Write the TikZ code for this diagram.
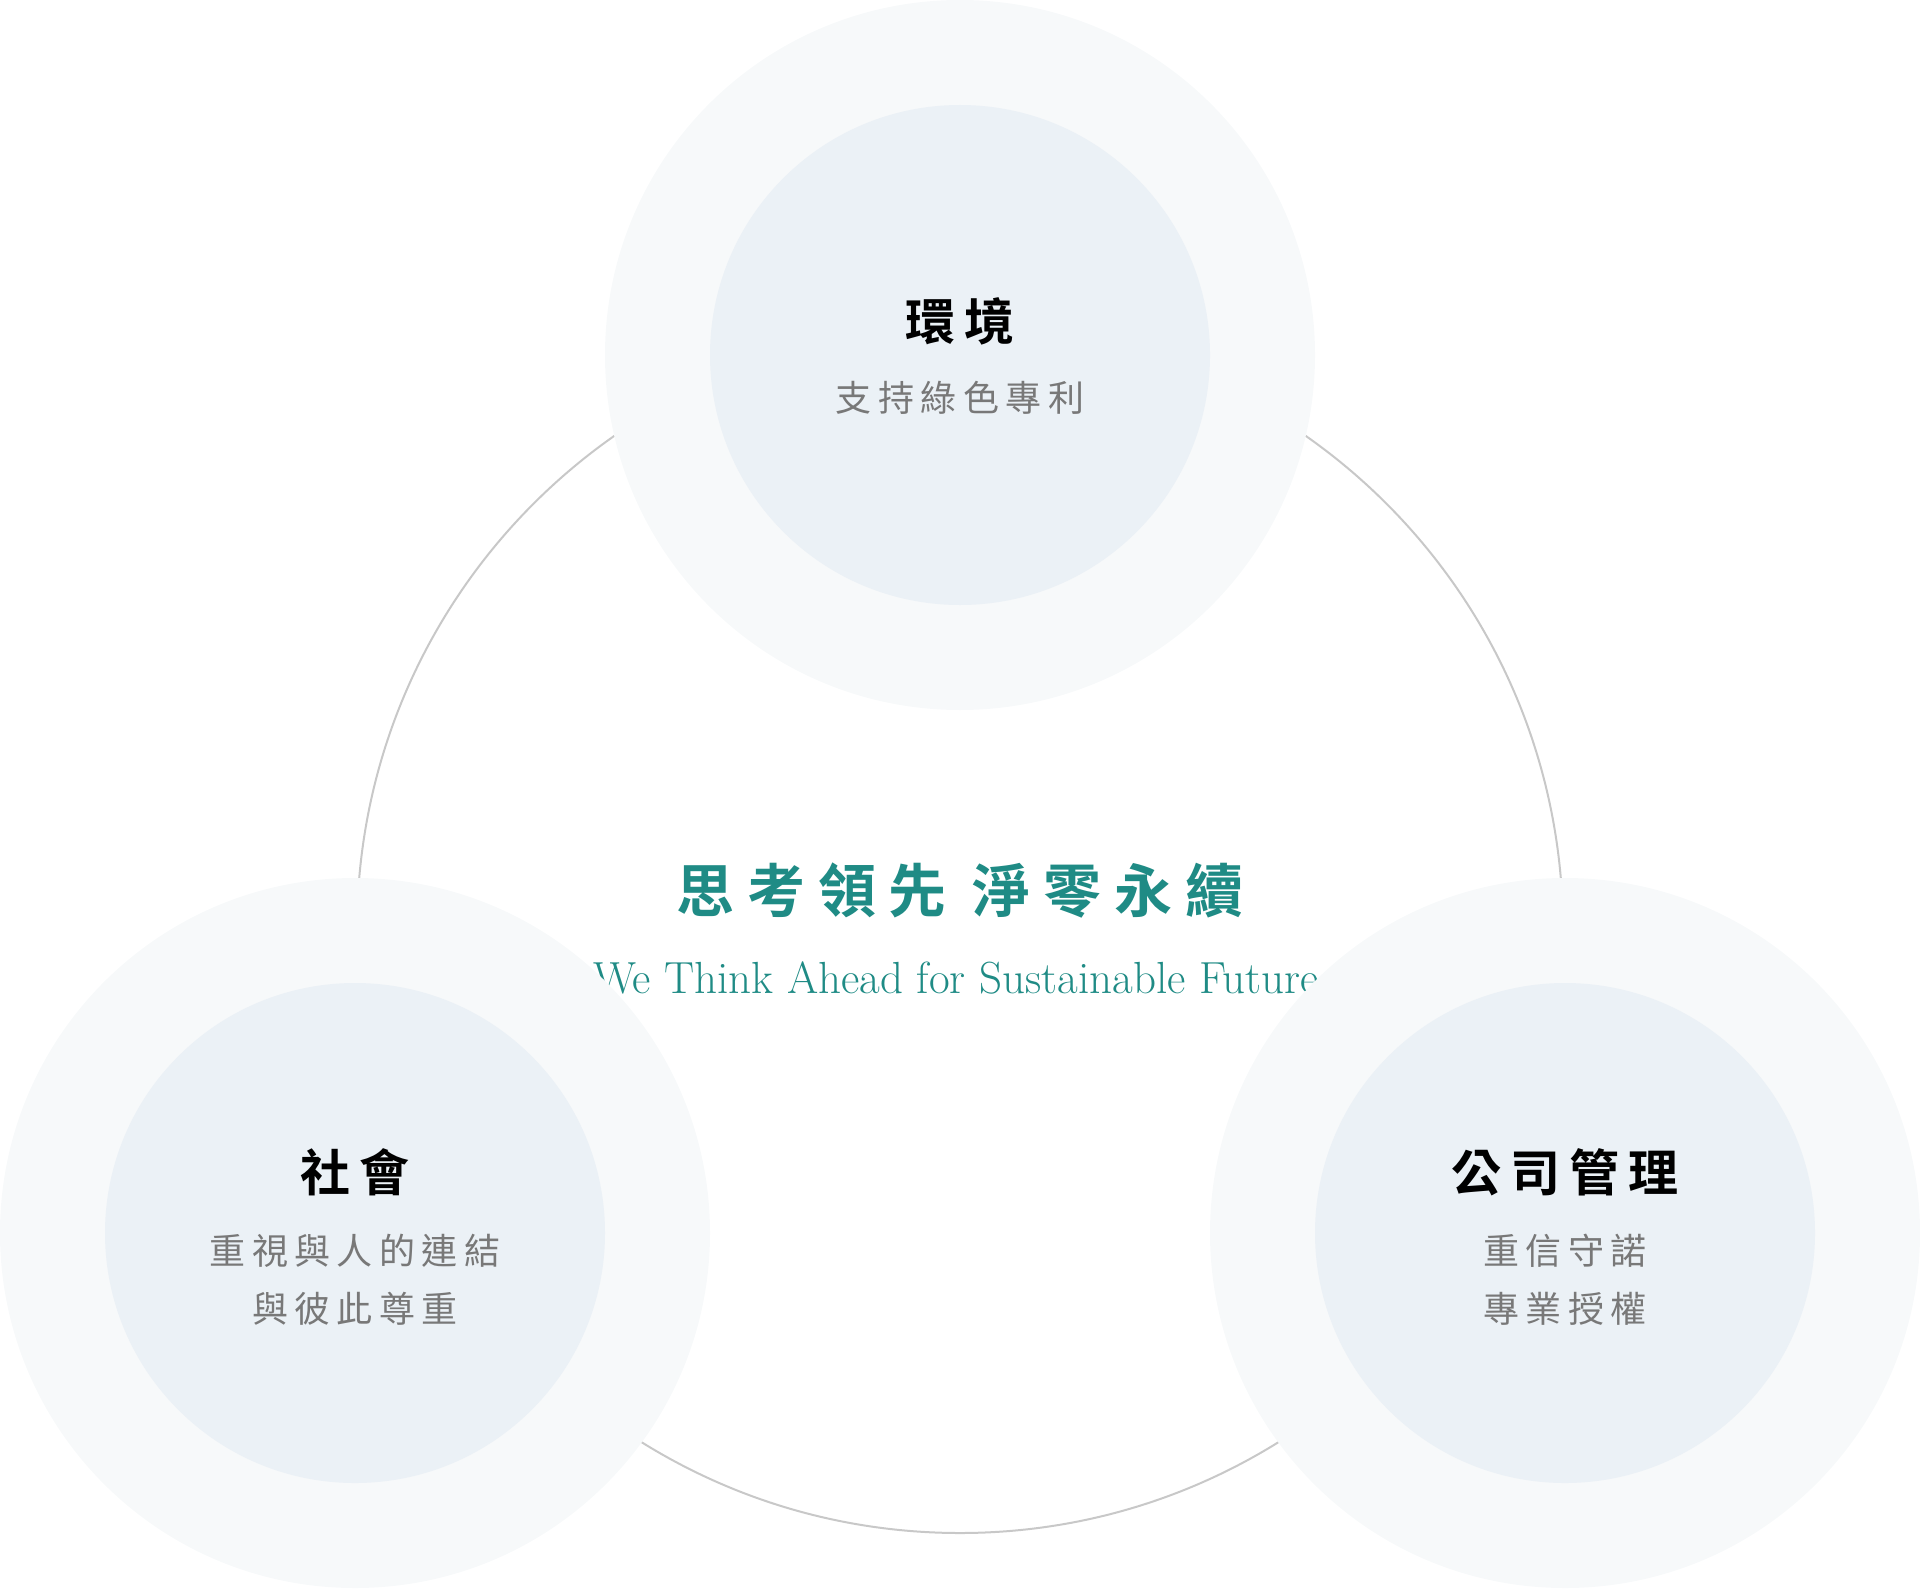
\documentclass[tikz,border=0pt]{standalone}
\usepackage{fontspec}
\newfontfamily\cjk[LetterSpace=18, BoldFont={Noto Sans CJK TC Bold}]{Noto Sans CJK TC}
\newfontfamily\cjkwide[LetterSpace=22, BoldFont={Noto Sans CJK TC Bold}]{Noto Sans CJK TC}
\definecolor{ringgray}{HTML}{C8C8C8}
\definecolor{outerfill}{HTML}{F7F9FA}
\definecolor{innerfill}{HTML}{EBF1F6}
\definecolor{leadteal}{HTML}{1F8B85}
\definecolor{subgray}{HTML}{787878}

\begin{document}
\begin{tikzpicture}
	[
		x = 0.5pt, y = -0.5pt,
		ring/.style = {circle, draw=ringgray, line width=1pt, minimum size=603pt, inner sep=0pt},
		outer/.style = {circle, fill=outerfill, minimum size=355pt, inner sep=0pt},
		inner/.style = {circle, fill=innerfill, minimum size=250pt, inner sep=0pt},
		title/.style = {font=\cjk\bfseries\fontsize{25}{30}\selectfont, text=black, inner sep=0pt},
		subtitle/.style = {font=\cjk\fontsize{18}{29}\selectfont, text=subgray, align=center, inner sep=0pt},
		motto/.style = {font=\cjkwide\bfseries\fontsize{29}{34}\selectfont, text=leadteal, inner sep=0pt},
		slogan/.style = {font=\fontsize{22.5}{27}\selectfont, text=leadteal, xscale=1.0, inner sep=0pt}]

	\useasboundingbox (0,0) rectangle (1920,1589);

	% ring behind everything
	\node[ring] (loop) at (960,930) {};

	% centre text
	\node[motto] (headline) at (960,891) {思考領先 淨零永續};
	\node[slogan] (tagline) at (956,978) {We Think Ahead for Sustainable Future};

	% environment
	\node[outer] (env) at (960,355) {};
	\node[inner] (envcore) at (env) {};
	\node[title] (envtitle) at (960,321) {環境};
	\node[subtitle] (envtext) at (960,398) {支持綠色專利};

	% society
	\node[outer] (soc) at (355,1233) {};
	\node[inner] (soccore) at (soc) {};
	\node[title] (soctitle) at (355,1172) {社會};
	\node[subtitle] (soctext) at (355,1280) {重視與人的連結\\與彼此尊重};

	% governance
	\node[outer] (gov) at (1565,1233) {};
	\node[inner] (govcore) at (gov) {};
	\node[title] (govtitle) at (1565,1172) {公司管理};
	\node[subtitle] (govtext) at (1565,1280) {重信守諾\\專業授權};
\end{tikzpicture}
\end{document}
